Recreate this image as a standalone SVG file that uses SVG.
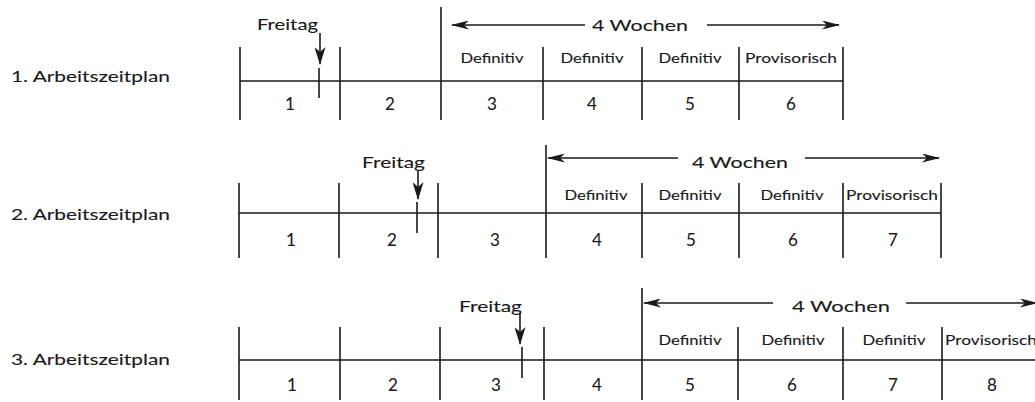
<svg xmlns="http://www.w3.org/2000/svg" width="1035" height="402" viewBox="0 0 1035 402">
<defs>
<style>
text{font-family:Lato,"Open Sans","DejaVu Sans",sans-serif;fill:#1a1a1a;stroke:#1a1a1a;stroke-width:0.12}
.lbl{font-size:16px}
.fr{font-size:16px}
.wk{font-size:16px}
.df{font-size:13px;text-anchor:middle}
.nm{font-size:17px;text-anchor:middle}
.ln{stroke:#1a1a1a;stroke-width:1.6;fill:none}
.ar{stroke:#1a1a1a;stroke-width:1.6;fill:none;marker-end:url(#ah)}
.fa{stroke:#1a1a1a;stroke-width:1.6;fill:none;marker-end:url(#fh)}
</style>
<marker id="ah" viewBox="0 0 18 9" refX="17" refY="4.5" markerWidth="18" markerHeight="9" markerUnits="userSpaceOnUse" orient="auto"><path d="M0,0 L18,4.5 L0,9 L5,4.5 z" fill="#1a1a1a"/></marker>
<marker id="fh" viewBox="0 0 18 11" refX="17" refY="5.5" markerWidth="18" markerHeight="11" markerUnits="userSpaceOnUse" orient="auto"><path d="M0,0 L18,5.5 L0,11 L5,5.5 z" fill="#1a1a1a"/></marker>
</defs>
<rect width="1035" height="402" fill="#ffffff"/>

<g id="plan1">
<text class="lbl" x="11" y="82" textLength="159" lengthAdjust="spacingAndGlyphs">1. Arbeitszeitplan</text>
<path class="ln" d="M240,81 H843 M240,47 V120 M340,47 V120 M441,7 V120 M543,47 V120 M642,47 V120 M739,47 V120 M843,47 V120 M319,68 V98"/>
<text class="fr" x="257" y="30" textLength="61" lengthAdjust="spacingAndGlyphs">Freitag</text>
<text class="wk" x="592" y="31" textLength="96" lengthAdjust="spacingAndGlyphs">4 Wochen</text>
<text class="df" x="492" y="63" textLength="63" lengthAdjust="spacingAndGlyphs">Definitiv</text>
<text class="df" x="592" y="63" textLength="63" lengthAdjust="spacingAndGlyphs">Definitiv</text>
<text class="df" x="690" y="63" textLength="63" lengthAdjust="spacingAndGlyphs">Definitiv</text>
<text class="df" x="791" y="63" textLength="92" lengthAdjust="spacingAndGlyphs">Provisorisch</text>
<text class="nm" x="290" y="110">1</text>
<text class="nm" x="390" y="110">2</text>
<text class="nm" x="492" y="110">3</text>
<text class="nm" x="592" y="110">4</text>
<text class="nm" x="690" y="110">5</text>
<text class="nm" x="791" y="110">6</text>
</g>

<g id="plan2">
<text class="lbl" x="11" y="220" textLength="159" lengthAdjust="spacingAndGlyphs">2. Arbeitszeitplan</text>
<path class="ln" d="M239,213 H941 M239,183 V258 M339,183 V258 M438,183 V258 M546,145 V258 M642,183 V258 M739,183 V258 M843,183 V258 M941,183 V258 M417,202 V233"/>
<text class="fr" x="362" y="168" textLength="63" lengthAdjust="spacingAndGlyphs">Freitag</text>
<text class="wk" x="692" y="168" textLength="96" lengthAdjust="spacingAndGlyphs">4 Wochen</text>
<text class="df" x="596" y="200" textLength="63" lengthAdjust="spacingAndGlyphs">Definitiv</text>
<text class="df" x="690" y="200" textLength="63" lengthAdjust="spacingAndGlyphs">Definitiv</text>
<text class="df" x="792" y="200" textLength="63" lengthAdjust="spacingAndGlyphs">Definitiv</text>
<text class="df" x="892" y="200" textLength="92" lengthAdjust="spacingAndGlyphs">Provisorisch</text>
<text class="nm" x="291" y="246">1</text>
<text class="nm" x="392" y="246">2</text>
<text class="nm" x="495" y="246">3</text>
<text class="nm" x="597" y="246">4</text>
<text class="nm" x="691" y="246">5</text>
<text class="nm" x="793" y="246">6</text>
<text class="nm" x="893" y="246">7</text>
</g>

<g id="plan3">
<text class="lbl" x="11" y="365" textLength="159" lengthAdjust="spacingAndGlyphs">3. Arbeitszeitplan</text>
<path class="ln" d="M239,360 H1040 M239,327 V400 M340,327 V400 M440,327 V400 M544,327 V400 M642,288 V400 M738,327 V400 M843,327 V400 M942,327 V400 M522,347 V378"/>
<text class="fr" x="459" y="312" textLength="63" lengthAdjust="spacingAndGlyphs">Freitag</text>
<text class="wk" x="792" y="312" textLength="98" lengthAdjust="spacingAndGlyphs">4 Wochen</text>
<text class="df" x="690" y="345" textLength="63" lengthAdjust="spacingAndGlyphs">Definitiv</text>
<text class="df" x="793" y="345" textLength="63" lengthAdjust="spacingAndGlyphs">Definitiv</text>
<text class="df" x="894" y="345" textLength="63" lengthAdjust="spacingAndGlyphs">Definitiv</text>
<text class="df" x="991" y="345" textLength="92" lengthAdjust="spacingAndGlyphs">Provisorisch</text>
<text class="nm" x="292" y="391">1</text>
<text class="nm" x="393" y="391">2</text>
<text class="nm" x="496" y="391">3</text>
<text class="nm" x="597" y="391">4</text>
<text class="nm" x="690" y="391">5</text>
<text class="nm" x="792" y="391">6</text>
<text class="nm" x="893" y="391">7</text>
<text class="nm" x="992" y="391">8</text>
</g>

<g id="connectors">
<path class="fa" d="M320,33 V64"/>
<path class="ar" d="M585,25 H452"/>
<path class="ar" d="M707,25 H839"/>
<path class="fa" d="M418,170 V199"/>
<path class="ar" d="M678,158 H548"/>
<path class="ar" d="M805,158 H939"/>
<path class="fa" d="M520,313 V344"/>
<path class="ar" d="M773,303 H644"/>
<path class="ar" d="M906,303 H1037"/>
</g>
</svg>
